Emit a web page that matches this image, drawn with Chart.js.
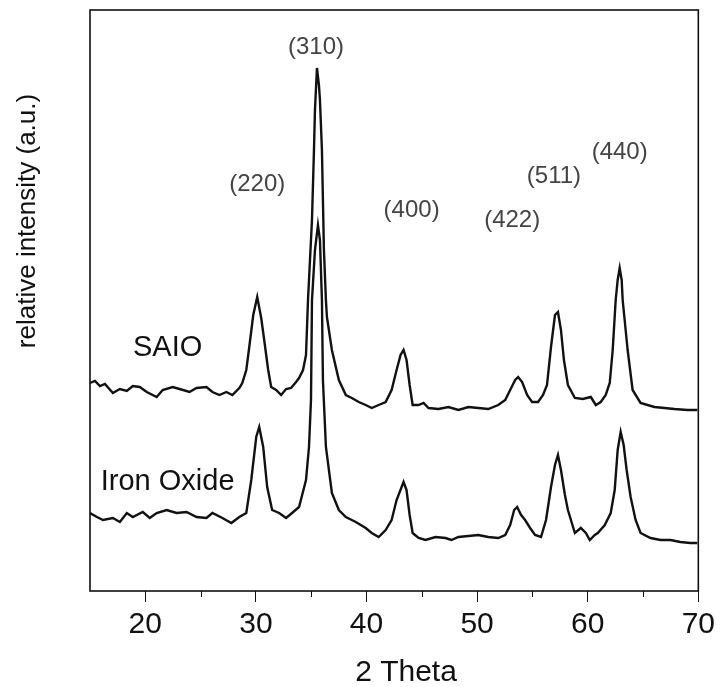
<!DOCTYPE html>
<html>
<head>
<meta charset="utf-8">
<script src="https://cdn.jsdelivr.net/npm/chart.js@4.4.1/dist/chart.umd.min.js"></script>
<style>
  html, body { margin: 0; padding: 0; background: #fff; }
  #wrap { width: 720px; height: 687px; }
</style>
</head>
<body>
<div id="wrap"><canvas id="c" width="720" height="687"></canvas></div>
<script>
// ---- data (2 Theta in degrees, intensity in arbitrary units) ----
const saioTheta = [15.00,15.45,15.90,16.35,17.07,17.70,18.33,18.87,19.50,20.13,
  21.03,21.57,22.47,23.10,24.00,24.63,25.53,26.07,26.70,27.33,
  27.87,28.50,28.77,29.13,29.40,29.76,30.12,30.48,30.75,31.11,
  31.38,31.83,32.28,32.73,33.18,33.63,33.90,34.26,34.53,34.71,
  34.89,35.07,35.25,35.34,35.52,35.70,35.79,35.97,36.06,36.15,
  36.33,36.42,36.87,37.50,38.13,38.67,39.30,39.93,40.47,41.10,
  41.73,42.27,42.72,43.08,43.35,43.62,43.90,44.17,44.70,45.16,
  45.61,46.51,47.41,48.31,49.21,50.11,51.01,51.91,52.54,52.99,
  53.44,53.71,54.07,54.52,54.97,55.51,55.96,56.32,56.68,57.04,
  57.31,57.58,57.85,58.21,58.84,59.56,60.28,60.73,61.18,61.63,
  61.99,62.26,62.53,62.71,62.89,63.07,63.16,63.43,63.61,64.06,
  64.78,65.41,66.04,66.94,67.84,69.01,69.91];
const saioIntensity = [208,210,205,207,198,202,200,205,204,199,
  194,201,204,202,199,203,204,199,196,199,
  196,203,208,221,244,276,294,273,251,221,
  204,201,196,202,203,209,213,221,236,291,
  331,371,441,481,523,506,491,441,391,341,
  291,274,241,211,196,193,189,186,183,186,
  189,201,221,236,241,231,206,186,186,188,
  183,182,184,181,184,183,182,186,191,201,
  211,214,209,196,189,189,196,206,244,276,
  279,261,231,206,193,192,194,186,189,196,
  208,241,291,311,323,311,291,261,241,201,
  188,186,184,183,182,181,181];

const ironTheta = [15.00,15.63,16.17,17.07,17.70,18.33,18.87,19.77,20.40,21.03,
  21.93,22.83,23.73,24.63,25.53,26.07,26.97,27.78,28.50,29.13,
  29.58,30.03,30.30,30.66,31.02,31.47,32.10,32.73,33.27,33.90,
  34.53,34.80,34.98,35.07,35.34,35.61,35.79,35.97,36.06,36.33,
  36.87,37.50,38.13,39.03,39.93,40.47,41.10,41.73,42.27,42.72,
  43.35,43.62,43.90,44.17,44.71,45.34,46.24,47.14,47.68,48.31,
  49.21,50.11,51.01,51.91,52.54,52.99,53.35,53.62,53.98,54.34,
  54.79,55.24,55.78,56.23,56.41,56.68,57.04,57.31,57.58,57.94,
  58.21,58.84,59.38,59.83,60.19,60.64,60.91,61.54,62.08,62.44,
  62.71,62.98,63.25,63.52,63.88,64.33,64.78,65.68,66.58,67.48,
  68.38,69.28,69.91];
const ironIntensity = [78,74,71,73,69,78,74,79,73,78,
  81,78,79,74,73,78,73,68,74,78,
  111,154,164,144,104,81,78,73,78,84,
  111,144,191,291,341,366,351,291,211,144,
  98,81,74,69,63,58,54,61,71,91,
  109,101,76,58,53,51,54,53,51,54,
  55,56,54,53,56,66,81,84,76,71,
  63,56,54,71,84,104,126,136,121,96,
  81,58,63,58,51,56,58,66,78,101,
  141,159,146,121,94,71,58,53,51,51,
  49,48,48];

// peak (hkl) annotations, placed in data coordinates
const peakLabels = ['(220)','(310)','(400)','(422)','(511)','(440)'];
const peakLabelTheta = [30.12, 35.43, 44.08, 53.17, 56.95, 62.89];
const peakLabelIntensity = [407, 544, 381, 371, 415, 439];

// series name annotations
const seriesNames = ['SAIO', 'Iron Oxide'];
const seriesLabelTheta = [22.02, 22.02];
const seriesLabelIntensity = [243, 109];

// axis
const xMin = 15, xMax = 70, xStep = 5;
const xTitle = '2 Theta';
const yTitle = 'relative intensity (a.u.)';

const toPoints = (xs, ys) => xs.map((x, i) => ({ x: x, y: ys[i] }));

const FONT = '"Liberation Sans", Arial, sans-serif';

const decor = {
  id: 'decor',
  beforeDraw(chart) {
    const ctx = chart.ctx;
    ctx.save();
    ctx.fillStyle = '#fff';
    ctx.fillRect(0, 0, chart.width, chart.height);
    ctx.restore();
  },
  afterDraw(chart) {
    const { ctx, chartArea: a, scales } = chart;
    const xs = scales.x, ys = scales.y;
    ctx.save();
    // frame
    ctx.strokeStyle = '#111';
    ctx.lineWidth = 1.6;
    ctx.strokeRect(a.left, a.top, a.right - a.left, a.bottom - a.top);
    // minor ticks
    ctx.lineWidth = 1;
    xs.ticks.forEach(t => {
      if (t.value % 10 !== 0 && t.value > xMin && t.value < xMax) {
        const px = Math.round(xs.getPixelForValue(t.value)) + 0.5;
        ctx.beginPath();
        ctx.moveTo(px, a.bottom);
        ctx.lineTo(px, a.bottom + 6);
        ctx.stroke();
      }
    });
    // peak labels
    ctx.fillStyle = '#444';
    ctx.font = '24px ' + FONT;
    ctx.textAlign = 'center';
    ctx.textBaseline = 'middle';
    peakLabels.forEach((lab, i) => {
      ctx.fillText(lab, xs.getPixelForValue(peakLabelTheta[i]), ys.getPixelForValue(peakLabelIntensity[i]));
    });
    // series labels
    ctx.fillStyle = '#111';
    ctx.font = '29px ' + FONT;
    seriesNames.forEach((lab, i) => {
      ctx.fillText(lab, xs.getPixelForValue(seriesLabelTheta[i]), ys.getPixelForValue(seriesLabelIntensity[i]));
    });
    // x title
    ctx.font = '30px ' + FONT;
    ctx.textBaseline = 'alphabetic';
    ctx.fillText(xTitle, 406, 681);
    // y title
    ctx.font = '26px ' + FONT;
    ctx.translate(28, 221);
    ctx.rotate(-Math.PI / 2);
    ctx.textBaseline = 'middle';
    ctx.fillText(yTitle, 0, 0);
    ctx.restore();
  }
};

new Chart(document.getElementById('c'), {
  type: 'line',
  data: {
    datasets: [
      { label: 'SAIO', data: toPoints(saioTheta, saioIntensity), borderColor: '#111', borderWidth: 2.4, pointRadius: 0, tension: 0, fill: false },
      { label: 'Iron Oxide', data: toPoints(ironTheta, ironIntensity), borderColor: '#111', borderWidth: 2.4, pointRadius: 0, tension: 0, fill: false }
    ]
  },
  options: {
    responsive: false,
    animation: false,
    devicePixelRatio: 1,
    layout: { padding: { left: 90, right: 19, top: 10, bottom: 0 } },
    plugins: { legend: { display: false }, tooltip: { enabled: false } },
    scales: {
      x: {
        type: 'linear',
        min: xMin, max: xMax,
        border: { display: false },
        grid: {
          drawOnChartArea: false,
          drawTicks: true,
          tickLength: 11,
          tickColor: ctx => (ctx.tick && ctx.tick.value % 10 === 0) ? '#111' : 'rgba(0,0,0,0)',
          tickWidth: 1
        },
        ticks: {
          stepSize: xStep,
          autoSkip: false,
          maxRotation: 0,
          padding: 5,
          color: '#111',
          font: { size: 30, family: FONT },
          callback: v => (v % 10 === 0 ? String(v) : '')
        },
        afterFit(scale) { scale.height = 96; }
      },
      y: { display: false, min: 0, max: 581 }
    }
  },
  plugins: [decor]
});
</script>
</body>
</html>
